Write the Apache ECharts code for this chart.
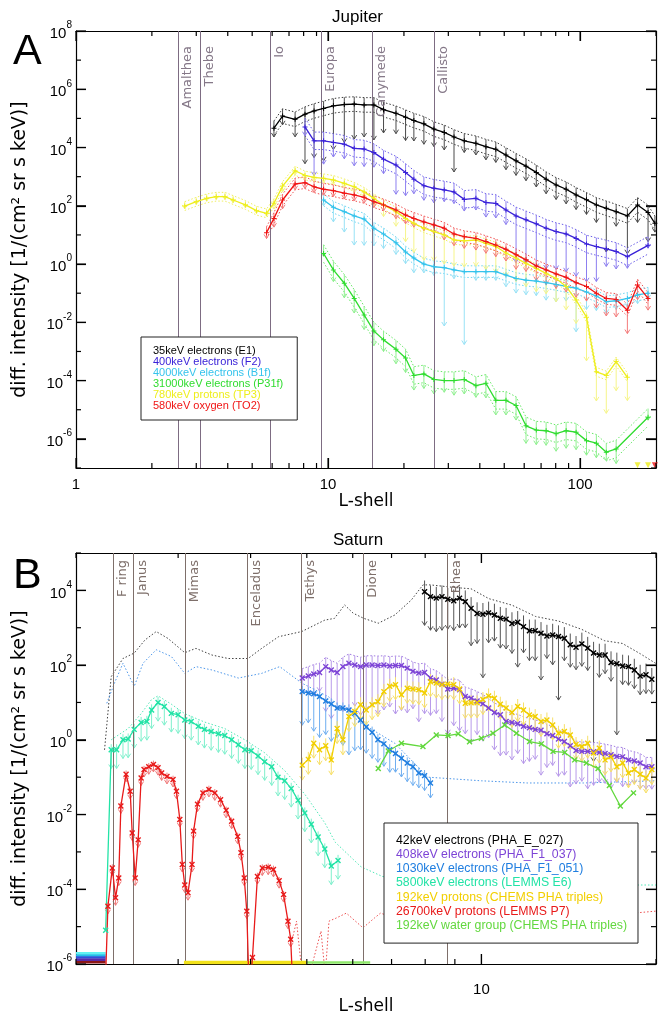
<!DOCTYPE html>
<html>
<head>
<meta charset="utf-8">
<script src="https://cdn.jsdelivr.net/npm/echarts@6/dist/echarts.min.js"></script>
<style>
  html, body { margin: 0; padding: 0; background: #fff; }
  #chart { width: 659px; height: 1017px; }
</style>
</head>
<body>
<div id="chart"></div>
<script>
// ---------- Panel A: Jupiter ----------
const jupL = [2.7, 3.0, 3.3, 3.6, 3.9, 4.2, 4.7, 5.2, 5.7, 6.1, 6.6, 7.4, 8.1, 8.8, 9.6, 10.5, 11.6, 12.7, 13.9, 15.2,
  16.6, 18.6, 20.3, 21.9, 24, 26.3, 28.9, 31.6, 34.7, 38.6, 42.3, 46.3, 50.8, 55.7, 61, 67, 73.3, 80.3, 88, 96.4,
  106, 116, 127, 139, 154, 169, 186, 198];
const jupMoons = ['Amalthea', 'Thebe', 'Io', 'Europa', 'Ganymede', 'Callisto'];
const jupMoonL = [2.54, 3.11, 5.9, 9.4, 15.0, 26.3];

// 35keV electrons (E1), from L=6.1
const jupE1 = [4.6e4, 1.2e5, 9.3e4, 1.4e5, 1.8e5, 2.2e5, 2.7e5, 3.0e5, 3.1e5, 2.9e5, 2.9e5, 2.0e5, 1.5e5, 1.1e5, 8.4e4,
  6.5e4, 4.3e4, 3.3e4, 2.3e4, 1.7e4, 1.4e4, 1.07e4, 8.7e3, 5.5e3, 3.5e3, 2.3e3, 1.4e3, 820, 520, 370, 236, 160, 107,
  82, 63, 45, 107, 59, 25];
const jupE1Dn = [0.3, 0.3, 0.6, 1.7, 1.6, 1.8, 1.5, 1.3, 1.2, 1.1, 1.2, 0.8, 0.7, 0.8, 0.7, 0.7, 0.6, 0.6, 1.2, 0.4,
  0.4, 0.45, 0.45, 0.5, 0.5, 0.5, 0.5, 0.5, 0.5, 0.5, 0.5, 0.5, 0.6, 1.5, 0.5, 1.3, 0.6, 1.0, 0.3];
// 400keV electrons (F2), from L=8.1
const jupF2 = [5.1e4, 1.7e4, 1.7e4, 1.5e4, 1.3e4, 9.4e3, 8.9e3, 6.7e3, 4.0e3, 2.5e3, 1.4e3, 820, 490, 400, 350, 300,
  166, 180, 130, 121, 72, 45, 33, 24, 17, 13, 10.8, 7.6, 4.9, 4.0, 3.3, 2.7, 1.8, null, 4.4, null];
const jupF2Dn = [0.3, 1.2, 0.8, 0.5, 0.5, 0.6, 0.6, 0.5, 0.5, 1.0, 0.8, 0.5, 0.5, 0.5, 0.4, 0.4, 0.4, 0.4, 0.5, 0.5,
  0.5, 1.6, 1.5, 1.5, 1.4, 1.3, 1.3, 1.3, 1.3, 1.2, 0.6, 0.6, 0.4, 0, 0.1, 0];
// 4000keV electrons (B1f), from L=9.6
const jupB1f = [159, 89, 63, 45, 35, 17, 10.8, 5.4, 2.6, 1.6, 1.0, 0.81, 0.75, 0.63, 0.55, 0.55, 0.55, 0.55, 0.42,
  0.32, 0.28, 0.26, 0.23, 0.20, 0.17, 0.15, 0.11, 0.080, 0.051, 0.055, 0.066, 0.087, 0.10, null];
const jupB1fDn = [0.2, 0.5, 0.7, 1.0, 0.9, 0.6, 0.5, 0.4, 0.4, 0.5, 0.3, 0.3, 2.0, 0.3, 2.5, 0.3, 0.3, 0.3, 0.4, 0.5,
  0.5, 0.5, 0.6, 0.6, 0.5, 1.5, 0.6, 0.5, 0.4, 0.3, 0.3, 0.3, 0.2, 0];
// 31000keV electrons (P31f), from L=9.6
const jupP31f = [2.3, 0.63, 0.22, 0.066, 0.018, 0.005, 0.0025, 1.2e-3, 6e-4, 1.5e-4, 1.7e-4, 1.1e-4, 1.0e-4, 1.0e-4,
  1.1e-4, 6.7e-5, 8.1e-5, 2.1e-5, 2.1e-5, 1.4e-5, 2.8e-6, 2.0e-6, 1.9e-6, 1.5e-6, 1.9e-6, 1.7e-6, 8.7e-7, 7.1e-7,
  3.5e-7, 4.5e-7, null, null, 5.5e-6, null];
const jupP31fDn = [0.1, 0.4, 0.5, 0.5, 0.5, 0.5, 0.4, 0.5, 0.5, 0.5, 0.5, 0.5, 0.4, 0.5, 0.5, 0.4, 0.5, 0.5, 0.5, 0.5,
  0.6, 0.5, 0.5, 0.6, 0.6, 0.6, 0.5, 0.5, 0.3, 0.5, 0, 0, 0.1, 0];
// 780keV protons (TP3), from L=2.7
const jupTP3 = [98, 138, 180, 205, 205, 158, 107, 68, 55, 123, 475, 1600, 1100, 950, 880, 770, 590, 450, 300, 180,
  107, 63, 37, 25, 17, 13, 10, 6.7, 6.3, 6.7, 5.1, 4.0, 2.4, 1.6, 1.06, 0.71, 0.48, 0.32, 0.17, 0.058, 0.015, 2.0e-4,
  1.5e-4, 4.5e-4, 1.3e-4];
const jupTP3Dn = [0.1, 0.1, 0.1, 0.1, 0.1, 0.1, 0.1, 0.1, 0.1, 0.2, 0.2, 0.15, 0.15, 0.15, 0.15, 0.15, 0.15, 0.2, 0.2,
  0.3, 0.4, 0.5, 0.8, 1.0, 1.1, 1.0, 1.0, 0.9, 0.9, 0.9, 0.9, 0.9, 0.8, 0.8, 0.8, 0.8, 0.7, 0.8, 0.8, 0.8, 1.5, 1.0,
  1.3, 1.0, 0.8];
// 580keV oxygen (TO2), from L=5.7
const jupTO2 = [12, 37, 158, 560, 620, 450, 370, 330, 270, 236, 195, 138, 107, 72, 48, 37, 28, 22, 17, 10.8, 8.7, 7.6,
  5.9, 4.5, 3.2, 2.1, 1.4, 0.86, 0.63, 0.46, 0.35, 0.23, 0.17, 0.10, 0.066, 0.061, 0.026, 0.19, 0.066];
const jupTO2Dn = [0.2, 0.3, 0.3, 0.2, 0.2, 0.2, 0.2, 0.2, 0.2, 0.2, 0.2, 0.2, 0.2, 0.3, 0.3, 0.3, 0.3, 0.3, 0.4, 0.4,
  0.4, 0.4, 0.4, 0.4, 0.4, 0.5, 0.4, 0.5, 0.5, 0.5, 0.5, 0.5, 0.5, 0.5, 0.6, 0.6, 0.8, 0.5, 0.4];
// points below the plotted range, marked on the axis
const jupTP3FloorL = [169, 186];
const jupTO2FloorL = [198];

// axis ticks
const jupXMajor = [1, 10, 100];
const jupXMinor = [2, 3, 4, 5, 6, 7, 8, 9, 20, 30, 40, 50, 60, 70, 80, 90, 200];
const jupYMajor = [1e-6, 1e-4, 1e-2, 1, 1e2, 1e4, 1e6, 1e8];
const jupYMinor = [1e-7, 1e-5, 1e-3, 1e-1, 10, 1e3, 1e5, 1e7];

// ---------- Panel B: Saturn ----------
const satGrid = [4.91, 5.03, 5.14, 5.26, 5.39, 5.51, 5.64, 5.77, 5.91, 6.05, 6.19, 6.33, 6.48, 6.63, 6.79, 6.95, 7.11,
  7.28, 7.45, 7.62, 7.80, 7.98, 8.17, 8.36, 8.55, 8.75, 8.96, 9.17, 9.38, 9.60, 9.83, 10.06, 10.29, 10.53, 10.78, 11.03,
  11.29, 11.55, 11.82, 12.10, 12.38, 12.67, 12.97, 13.27, 13.58, 13.90, 14.23, 14.56, 14.90, 15.25, 15.61, 15.97,
  16.34, 16.73, 17.12, 17.52, 17.93, 18.35, 18.78, 19.22, 19.67];
const satMoons = ['F ring', 'Janus', 'Mimas', 'Enceladus', 'Tethys', 'Dione', 'Rhea'];
const satMoonL = [2.32, 2.51, 3.08, 3.95, 4.89, 6.26, 8.74];

// 42keV electrons (PHA_E_027), from L=7.98
const satE027 = [9.2e3, 6.8e3, 6.2e3, 6.8e3, 5.8e3, 5.3e3, 6.2e3, 5.0e3, 3.3e3, 2.4e3, 2.3e3, 2.5e3, 2.2e3, 1.8e3,
  1.7e3, 1.3e3, 1.4e3, 1.07e3, 830, 830, 710, 600, 640, 580, 520, 350, 300, 370, 285, 210, 187, 187, 117, 108, 95, 91,
  74, 51, 55, 42];
const satE027Dn = [0.9, 0.9, 0.9, 0.9, 0.8, 0.8, 0.8, 0.7, 1.0, 0.8, 1.7, 0.8, 0.7, 0.8, 0.8, 0.8, 1.2, 0.7, 0.8, 0.8,
  1.25, 0.6, 0.8, 1.7, 0.6, 0.6, 0.6, 0.6, 0.6, 2.9, 0.6, 0.5, 0.5, 1.9, 0.5, 0.5, 0.5, 0.5, 0.5, 0.4];
const satE027EnvL = [2.24, 2.30, 2.41, 2.52, 2.63, 2.75, 2.88, 3.08, 3.22, 3.43, 3.66, 3.96, 4.18, 4.47, 4.90, 5.37,
  5.58, 5.81, 6.01, 6.27, 6.64, 7.09, 7.57, 7.93, 8.17, 8.96, 9.6, 10.3, 11.3, 12.4, 13.6, 14.9, 16.3, 17.5, 18.8, 20];
const satE027Env = [0.54, 49, 150, 210, 470, 790, 520, 215, 280, 186, 150, 150, 280, 575, 790, 1600, 1780, 4070,
  2450, 1780, 1320, 2190, 5500, 1.4e4, 1.4e4, 1.2e4, 1.1e4, 6e3, 4e3, 2e3, 1.5e3, 900, 450, 380, 200, 110];
// 408keV electrons (PHA_F1_037), from L=4.91
const satF1037 = [45, 51, 58, 63, 91, 74, 63, 91, 112, 100, 91, 100, 100, 98, 100, 95, 98, 97, 83, 68, 61, 63, 45, 40,
  31, 23, 24, 22, 14.5, 13, 11, 9.2, 7.1, 5.4, 4.7, 3.1, 2.9, 2.7, 2.3, 2.1, 1.9, 1.8, 1.45, 1.3, 1.05, 0.9, 0.69,
  0.52, 0.49, 0.49, 0.48, 0.46, 0.43, 0.40, 0.36, 0.35, 0.29, 0.27, 0.24, 0.19, 0.19];
const satF1037Dn = [0.4, 0.5, 0.6, 0.5, 1.2, 1.3, 1.0, 1.2, 1.3, 1.1, 1.3, 1.2, 1.1, 1.3, 1.2, 1.1, 1.3, 1.2, 1.2, 1.0,
  1.3, 1.1, 1.0, 0.9, 1.0, 1.2, 1.0, 1.1, 1.0, 1.2, 0.9, 1.0, 0.8, 1.0, 1.1, 0.9, 1.0, 0.8, 1.0, 0.9, 0.8, 1.2, 0.9,
  0.8, 1.0, 0.9, 1.1, 0.9, 0.8, 1.0, 0.9, 0.8, 0.8, 0.9, 0.7, 0.8, 0.7, 0.6, 0.7, 0.6, 0.6];
// 1030keV electrons (PHA_F1_051), from L=4.91
const satF1051 = [19.5, 18, 17, 14.5, 11, 9.1, 7.1, 7.1, 6.3, 5.1, 3.4, 2.2, 1.6, 1.0, 0.78, 0.54, 0.43, 0.32, 0.24,
  0.19, 0.13, 0.11, 0.07];
const satF1051Dn = [0.9, 0.8, 1.0, 1.1, 0.9, 1.0, 0.8, 1.0, 1.2, 1.0, 0.8, 0.7, 0.7, 0.6, 0.6, 0.6, 0.5, 0.5, 0.5,
  0.5, 0.4, 0.4, 0.4];
const satF1051EnvL = [2.26, 2.33, 2.41, 2.52, 2.61, 2.75, 2.92, 3.08, 3.22, 3.43, 3.81, 4.18, 4.49, 4.90, 5.44, 6.21,
  7.09, 8.09, 10, 12, 15, 20];
const satF1051Env = [9.5, 33, 112, 27, 112, 257, 170, 60, 91, 74, 45, 60, 91, 33, 14.5, 2.8, 0.81, 0.1, 0.08, 0.07,
  0.07, 0.08];
// 5800keV electrons (LEMMS E6)
const satE6L = [2.25, 2.30, 2.35, 2.41, 2.46, 2.52, 2.59, 2.65, 2.70, 2.77, 2.84, 2.92, 3.00, 3.08, 3.16, 3.25, 3.33,
  3.42, 3.52, 3.61, 3.71, 3.81, 3.91, 4.01, 4.12, 4.23, 4.35, 4.46, 4.58, 4.70, 4.83, 4.96, 5.09, 5.23, 5.37, 5.51, 5.66];
const satE6 = [8e-6, 0.54, 0.54, 1.0, 1.05, 1.9, 2.9, 3.1, 6.3, 10, 7.8, 5.1, 4.7, 3.4, 3.1, 2.3, 1.9, 1.66, 1.45, 1.3,
  1.0, 0.74, 0.54, 0.51, 0.37, 0.26, 0.19, 0.10, 0.08, 0.05, 0.024, 0.011, 0.0055, 0.0025, 0.0012, 4.2e-4, 5.9e-4];
const satE6EnvL = [2.30, 2.46, 2.59, 2.70, 2.77, 2.92, 3.08, 3.33, 3.61, 3.91, 4.23, 4.58, 4.96, 5.37, 5.6, 6.2, 6.75,
  8.1, 10, 13, 16, 20];
const satE6Env = [1.0, 2.0, 5, 12, 15, 9, 5, 3, 2, 1.0, 0.45, 0.15, 0.035, 0.006, 0.0018, 4e-4, 2.2e-4, 1.5e-4, 1.4e-4,
  1.35e-4, 1.3e-4, 1.3e-4];
// 192keV protons (CHEMS PHA triples), from L=4.91
const satCHp = [0.21, 0.30, 0.81, 0.54, 0.69, 0.29, 2.0, 1.0, 4.2, 5.7, 8.7, 6.3, 8.7, 10.5, 19.5, 27, 30, 16, 24, 23,
  22, 18, 36, 33, 30, 31, 30, 23, 9.5, 9.8, 9.8, 12, 15, 13, 9, 7.1, 5.4, 7.8, 6.3, 4.6, 4.2, 3.1, 3.4, 2.5, 1.5, 1.66,
  1.35, 0.75, 0.66, 0.81, 0.44, 0.6, 0.29, 0.35, 0.19, 0.24, 0.13, 0.16, 0.12, 0.095, 0.16];
// 26700keV protons (LEMMS P7)
const satP7L = [2.25, 2.27, 2.31, 2.34, 2.37, 2.39, 2.44, 2.48, 2.50, 2.53, 2.56, 2.59, 2.62, 2.67, 2.72, 2.77, 2.81,
  2.87, 2.94, 2.98, 3.02, 3.05, 3.08, 3.12, 3.17, 3.19, 3.24, 3.31, 3.39, 3.47, 3.55, 3.63, 3.71, 3.80, 3.85, 3.90,
  3.94, 3.97, 4.01, 4.03, 4.11, 4.19, 4.29, 4.38, 4.48, 4.56, 4.64, 4.69, 4.72];
const satP7 = [5e-7, 3.5e-5, 3.7e-4, 5.9e-5, 2.0e-4, 0.017, 0.12, 0.042, 3.2e-3, 2.0e-4, 2.1e-3, 0.095, 0.16, 0.19,
  0.22, 0.18, 0.13, 0.105, 0.087, 0.042, 7.4e-3, 4.6e-4, 1.3e-4, 8.1e-5, 4.6e-4, 3.6e-3, 0.019, 0.038, 0.047, 0.038,
  0.025, 0.013, 6.6e-3, 2.6e-3, 9.5e-4, 2.0e-4, 2.6e-5, 5e-7, 5e-7, 1.5e-6, 2.2e-4, 3.7e-4, 3.9e-4, 3.4e-4, 1.7e-4,
  7.2e-5, 1.4e-5, 4.6e-6, 5e-7];
const satP7TailL = [4.72, 4.80, 4.91, 5.05, 5.29, 5.38, 5.46, 5.62, 5.85, 5.98, 6.25, 6.54, 6.7, 8.6, 11, 13.5, 16.5, 20];
const satP7Tail = [4.6e-6, 1.4e-5, 5e-7, 5e-7, 7.6e-6, 5e-7, 1.4e-5, 1.7e-5, 2.3e-5, 1.7e-5, 9.3e-6, 1.7e-5, 2.3e-5,
  6.2e-6, 1.2e-5, 1.7e-5, 2.0e-5, 2.6e-5];
// 192keV water group (CHEMS PHA triples)
const satWgL = [6.64, 6.91, 7.28, 7.93, 8.36, 8.76, 9.12, 9.54, 10.0, 10.47, 10.97, 11.49, 12.11, 12.69, 13.29, 13.92,
  14.48, 15.17, 15.89, 16.62, 17.36, 18.29];
const satWg = [0.17, 0.5, 0.81, 0.66, 1.35, 1.3, 1.45, 0.89, 1.1, 1.5, 2.5, 1.5, 0.9, 0.78, 0.49, 0.46, 0.29, 0.24,
  0.17, 0.06, 0.017, 0.038];
// fill-value flags along the lower edge
const satFlagL = [2.0, 2.25];
const satFlagLevels = [1.95e-6, 1.7e-6, 1.5e-6, 1.3e-6, 1.12e-6];
const satCHpBaseL = [3.07, 4.99];
const satWgBaseL = [5.0, 6.43];
const satBaseLevel = 1.1e-6;

const satXMajor = [10];
const satXMinor = [2, 3, 4, 5, 6, 7, 8, 9, 20];
const satYMajor = [1e-6, 1e-4, 1e-2, 1, 1e2, 1e4];
const satYMinor = [1e-5, 1e-3, 1e-1, 10, 1e3, 1e5];

const FONT = '"Liberation Sans", Arial, Helvetica, sans-serif';
const WIDE = '"DejaVu Sans", Verdana, sans-serif';
const PLUS = 'path://M4,0H6V4H10V6H6V10H4V6H0V4H4Z';
const TICK = '#000';

function pts(xs, ys) {
  return xs.map((x, i) => [x, ys[i] == null ? null : ys[i]]);
}
function shift(ys, dec) {
  return ys.map(v => (v == null ? null : v * Math.pow(10, dec)));
}

function mainLine(name, g, xs, ys, color, size, rot, connect) {
  return {
    name, type: 'line', xAxisIndex: g * 2, yAxisIndex: g * 2, data: pts(xs, ys),
    symbol: PLUS, symbolSize: size, symbolRotate: rot, connectNulls: !!connect,
    lineStyle: { color, width: 1.3 }, itemStyle: { color },
    z: 6, clip: true, silent: true
  };
}
function dotted(name, g, xs, ys, color) {
  return {
    name, type: 'line', xAxisIndex: g * 2, yAxisIndex: g * 2, data: pts(xs, ys),
    symbol: 'none', connectNulls: true, lineStyle: { color, width: 1, type: [1.5, 2] },
    z: 3, clip: true, silent: true
  };
}
function bars(name, g, xs, ys, dn, up, color) {
  const data = [];
  xs.forEach((x, i) => {
    const v = ys[i];
    if (v == null) return;
    const d = Array.isArray(dn) ? dn[i] : dn;
    if (!d) return;
    data.push([x, v / Math.pow(10, d), v * Math.pow(10, up)]);
  });
  return {
    name, type: 'custom', xAxisIndex: g * 2, yAxisIndex: g * 2, data, z: 4, silent: true,
    encode: { x: 0, y: [1, 2] },
    renderItem(params, api) {
      const x = api.value(0);
      const top = api.coord([x, api.value(2)]);
      const bot = api.coord([x, api.value(1)]);
      const cs = params.coordSys;
      return {
        type: 'group',
        clipPath: { type: 'rect', shape: { x: cs.x, y: cs.y, width: cs.width, height: cs.height } },
        children: [
          { type: 'line', shape: { x1: top[0], y1: top[1], x2: bot[0], y2: bot[1] }, style: { stroke: color, lineWidth: 1 } },
          { type: 'polyline', shape: { points: [[bot[0] - 2.5, bot[1] - 4], [bot[0], bot[1]], [bot[0] + 2.5, bot[1] - 4]] },
            style: { stroke: color, fill: null, lineWidth: 1 } }
        ]
      };
    }
  };
}
function flat(g, xs, level, color, width) {
  return {
    type: 'line', xAxisIndex: g * 2, yAxisIndex: g * 2, data: xs.map(x => [x, level]),
    symbol: 'none', lineStyle: { color, width }, z: 5, clip: true, silent: true
  };
}
function moons(g, names, vals, lineColor, textColor, dist) {
  return {
    type: 'line', xAxisIndex: g * 2, yAxisIndex: g * 2, data: [], z: 1,
    markLine: {
      silent: true, symbol: ['none', 'none'], animation: false,
      lineStyle: { color: lineColor, width: 1, type: 'solid' },
      label: { show: true, position: 'insideEndBottom', formatter: '{b}', color: textColor,
        fontSize: 13, fontFamily: WIDE, distance: [dist, 3] },
      data: names.map((n, i) => ({ name: n, xAxis: vals[i] }))
    }
  };
}
// inward ticks on all four sides of a grid, placed through the axis scales
function ticks(g, xMajor, xMinor, yMajor, yMinor, xRef, yRef) {
  const data = [];
  xMajor.forEach(v => data.push([v, yRef, 0, 10]));
  xMinor.forEach(v => data.push([v, yRef, 0, 5]));
  yMajor.forEach(v => data.push([xRef, v, 1, 10]));
  yMinor.forEach(v => data.push([xRef, v, 1, 5]));
  return {
    type: 'custom', xAxisIndex: g * 2, yAxisIndex: g * 2, data, z: 8, silent: true, clip: false,
    encode: { x: 0, y: 1 },
    renderItem(params, api) {
      const cs = params.coordSys;
      const p = api.coord([api.value(0), api.value(1)]);
      const len = api.value(3);
      const horiz = api.value(2) === 1;
      const a = horiz
        ? { x1: cs.x, y1: p[1], x2: cs.x + len, y2: p[1] }
        : { x1: p[0], y1: cs.y + cs.height, x2: p[0], y2: cs.y + cs.height - len };
      const b = horiz
        ? { x1: cs.x + cs.width, y1: p[1], x2: cs.x + cs.width - len, y2: p[1] }
        : { x1: p[0], y1: cs.y, x2: p[0], y2: cs.y + len };
      return {
        type: 'group',
        children: [
          { type: 'line', shape: a, style: { stroke: TICK, lineWidth: 1.2 } },
          { type: 'line', shape: b, style: { stroke: TICK, lineWidth: 1.2 } }
        ]
      };
    }
  };
}

function powLabel(v) {
  const e = Math.round(Math.log10(v));
  return '{b|10}{e|' + e + '}';
}
const powRich = {
  b: { fontSize: 15, fontFamily: FONT, color: '#000', padding: [6, 0, 0, 0] },
  e: { fontSize: 10, fontFamily: FONT, color: '#000', verticalAlign: 'top' }
};

// one labelled axis plus a mirrored frame axis; major ticks on both
function axes(dim, g, min, max, label, name, majors) {
  const ls = { color: '#000', width: 1.2 };
  const tk = { show: true, inside: true, length: 10, customValues: majors, lineStyle: { color: TICK, width: 1.2 } };
  const base = { type: 'log', logBase: 10, gridIndex: g, min, max, splitLine: { show: false }, axisTick: tk };
  const sideA = dim === 'x' ? 'bottom' : 'left';
  const sideB = dim === 'x' ? 'top' : 'right';
  return [
    Object.assign({}, base, name, { position: sideA, axisLine: { show: true, lineStyle: ls }, axisLabel: label }),
    Object.assign({}, base, { position: sideB, axisLine: { show: true, lineStyle: ls }, axisLabel: { show: false } })
  ];
}

const yName = 'diff. intensity [1/(cm\u00B2 sr s keV)]';
const nameStyle = { fontSize: 19, fontFamily: WIDE, color: '#000' };
const xNameStyle = { fontSize: 17, fontFamily: WIDE, color: '#000' };

const xAxes = [].concat(
  axes('x', 0, 1, 200,
    { show: true, customValues: jupXMajor, formatter: v => String(Math.round(v)), margin: 9,
      fontSize: 15, fontFamily: FONT, color: '#000' },
    { name: 'L-shell', nameLocation: 'middle', nameGap: 21, nameTextStyle: xNameStyle }, jupXMajor),
  axes('x', 1, 2, 20,
    { show: true, customValues: satXMajor, formatter: v => String(Math.round(v)), margin: 18,
      fontSize: 15, fontFamily: FONT, color: '#000' },
    { name: 'L-shell', nameLocation: 'middle', nameGap: 33, nameTextStyle: xNameStyle }, satXMajor)
);
const yAxes = [].concat(
  axes('y', 0, 1e-7, 1e8,
    { show: true, customValues: jupYMajor, formatter: powLabel, rich: powRich, margin: 4 },
    { name: yName, nameLocation: 'middle', nameGap: 46, nameTextStyle: nameStyle }, jupYMajor),
  axes('y', 1, 1e-6, 1e5,
    { show: true, customValues: satYMajor, formatter: powLabel, rich: powRich, margin: 4 },
    { name: yName, nameLocation: 'middle', nameGap: 46, nameTextStyle: nameStyle }, satYMajor)
);

const JUP = [
  { name: '35keV electrons (E1)', color: '#000000', bar: '#4a4a4a', dot: '#3a3a3a' },
  { name: '400keV electrons (F2)', color: '#3a22d8', bar: '#8d7ff0', dot: '#6b5ee8' },
  { name: '4000keV electrons (B1f)', color: '#34c3ec', bar: '#98e2f6', dot: '#6fd6f2' },
  { name: '31000keV electrons (P31f)', color: '#2fdc2f', bar: '#8ff08f', dot: '#66e866' },
  { name: '780keV protons (TP3)', color: '#eeee1c', bar: '#f6f58a', dot: '#f0ef60' },
  { name: '580keV oxygen (TO2)', color: '#f01414', bar: '#f47c7c', dot: '#f25050' }
];
const SAT = [
  { name: '42keV electrons (PHA_E_027)', color: '#000000', bar: '#555555', dot: '#404040' },
  { name: '408keV electrons (PHA_F1_037)', color: '#7d44d6', bar: '#b89aea', dot: '#9f7ae0' },
  { name: '1030keV electrons (PHA_F1_051)', color: '#1f7ee0', bar: '#6eaef0', dot: '#4d97ea' },
  { name: '5800keV electrons (LEMMS E6)', color: '#22e3a6', bar: '#7ef0cc', dot: '#52e8b8' },
  { name: '192keV protons (CHEMS PHA triples)', color: '#f2cf00', bar: '#f7e06a', dot: '#f4d840' },
  { name: '26700keV protons (LEMMS P7)', color: '#e81a1a', bar: '#f07a7a', dot: '#ec5050' },
  { name: '192keV water group (CHEMS PHA triples)', color: '#62d83e', bar: '#a0ea88', dot: '#80e060' }
];

// Jupiter series: [style, L values, data, lower error (decades), upper error (decades)]
const jupSets = [
  [JUP[0], jupL.slice(9), jupE1, jupE1Dn, 0.25],
  [JUP[1], jupL.slice(12), jupF2, jupF2Dn, 0.3],
  [JUP[2], jupL.slice(14), jupB1f, jupB1fDn, 0.2],
  [JUP[3], jupL.slice(14), jupP31f, jupP31fDn, 0.3],
  [JUP[4], jupL.slice(0, 45), jupTP3, jupTP3Dn, 0.15],
  [JUP[5], jupL.slice(8, 47), jupTO2, jupTO2Dn, 0.2]
];

const series = [
  moons(0, jupMoons, jupMoonL, '#7d6c82', '#857888', 15),
  moons(1, satMoons, satMoonL, '#7e6f6a', '#7e6f6a', 7)
];

jupSets.forEach(([s, xs, ys, dn, up]) => {
  series.push(dotted(s.name, 0, xs, shift(ys, up), s.dot));
  series.push(dotted(s.name, 0, xs, shift(ys, -up), s.dot));
  series.push(bars(s.name, 0, xs, ys, dn, up, s.bar));
  series.push(mainLine(s.name, 0, xs, ys, s.color, 5, 0, true));
});
[[jupTP3FloorL, JUP[4].color], [jupTO2FloorL, JUP[5].color]].forEach(([xs, c]) => {
  series.push({
    type: 'scatter', xAxisIndex: 0, yAxisIndex: 0, data: xs.map(x => [x, 1.25e-7]),
    symbol: 'triangle', symbolRotate: 180, symbolSize: 6, itemStyle: { color: c }, z: 7, silent: true
  });
});

// Saturn
series.push(dotted(SAT[0].name, 1, satE027EnvL, satE027Env, SAT[0].dot));
series.push(bars(SAT[0].name, 1, satGrid.slice(21), satE027, satE027Dn, 0.3, SAT[0].bar));
series.push(mainLine(SAT[0].name, 1, satGrid.slice(21), satE027, SAT[0].color, 7, 45));

series.push(dotted(SAT[1].name, 1, satGrid, shift(satF1037, 0.25), SAT[1].dot));
series.push(bars(SAT[1].name, 1, satGrid, satF1037, satF1037Dn, 0.25, SAT[1].bar));
series.push(mainLine(SAT[1].name, 1, satGrid, satF1037, SAT[1].color, 7, 45));

series.push(dotted(SAT[2].name, 1, satF1051EnvL, satF1051Env, SAT[2].dot));
series.push(bars(SAT[2].name, 1, satGrid.slice(0, 23), satF1051, satF1051Dn, 0.15, SAT[2].bar));
series.push(mainLine(SAT[2].name, 1, satGrid.slice(0, 23), satF1051, SAT[2].color, 7, 45));

series.push(dotted(SAT[3].name, 1, satE6EnvL, satE6Env, SAT[3].dot));
series.push(bars(SAT[3].name, 1, satE6L.slice(1), satE6.slice(1), 0.5, 0.15, SAT[3].bar));
series.push(mainLine(SAT[3].name, 1, satE6L, satE6, SAT[3].color, 7, 45));

series.push(bars(SAT[4].name, 1, satGrid, satCHp, 0.4, 0.2, SAT[4].bar));
series.push(mainLine(SAT[4].name, 1, satGrid, satCHp, SAT[4].color, 7, 45));

series.push(dotted(SAT[5].name, 1, satP7TailL, satP7Tail, SAT[5].dot));
series.push(bars(SAT[5].name, 1, satP7L, satP7, 0.2, 0.1, SAT[5].bar));
series.push(mainLine(SAT[5].name, 1, satP7L, satP7, SAT[5].color, 7, 45));

series.push(mainLine(SAT[6].name, 1, satWgL, satWg, SAT[6].color, 7, 45));

const flagColors = ['#5ff2f2', '#22bfe6', '#2f52d8', '#5a2aa8', '#8c1616'];
satFlagLevels.forEach((lv, i) => series.push(flat(1, satFlagL, lv, flagColors[i], 2.5)));
series.push(flat(1, satCHpBaseL, satBaseLevel, '#f2e21a', 3.5));
series.push(flat(1, satWgBaseL, satBaseLevel, '#8ee86a', 2.5));

series.push(ticks(0, jupXMajor, jupXMinor, jupYMajor, jupYMinor, 10, 10));
series.push(ticks(1, satXMajor, satXMinor, satYMajor, satYMinor, 10, 10));

const titleStyle = { fontSize: 17, fontWeight: 'normal', fontFamily: FONT, color: '#000' };
const letterStyle = { fontSize: 43, fontWeight: 'normal', fontFamily: FONT, color: '#000' };

const option = {
  animation: false,
  backgroundColor: '#fff',
  title: [
    { text: 'Jupiter', left: 327, top: 4, textStyle: titleStyle },
    { text: 'A', left: 8, top: 26, textStyle: letterStyle },
    { text: 'Saturn', left: 328, top: 527, textStyle: titleStyle },
    { text: 'B', left: 8, top: 550, textStyle: letterStyle }
  ],
  grid: [
    { left: 76, top: 31, width: 580, height: 437, outerBoundsMode: 'none' },
    { left: 76, top: 553, width: 580, height: 411, outerBoundsMode: 'none' }
  ],
  legend: [
    {
      left: 141, top: 337, orient: 'vertical', z: 10, selectedMode: false,
      itemWidth: 0, itemHeight: 0, itemGap: 0, padding: [8, 14, 9, 7],
      borderColor: '#222', borderWidth: 1, backgroundColor: '#fff',
      textStyle: { fontSize: 11, fontFamily: FONT, lineHeight: 11 },
      data: JUP.map(s => ({ name: s.name, icon: 'none', textStyle: { color: s.color } }))
    },
    {
      left: 384, top: 823, orient: 'vertical', z: 10, selectedMode: false,
      itemWidth: 0, itemHeight: 0, itemGap: 0, padding: [10, 11, 10, 7],
      borderColor: '#222', borderWidth: 1, backgroundColor: '#fff',
      textStyle: { fontSize: 12.3, fontFamily: FONT, lineHeight: 14.3 },
      data: SAT.map(s => ({ name: s.name, icon: 'none', textStyle: { color: s.color } }))
    }
  ],
  xAxis: xAxes,
  yAxis: yAxes,
  series
};

const chart = echarts.init(document.getElementById('chart'), null, { renderer: 'canvas' });
chart.setOption(option);
</script>
</body>
</html>
